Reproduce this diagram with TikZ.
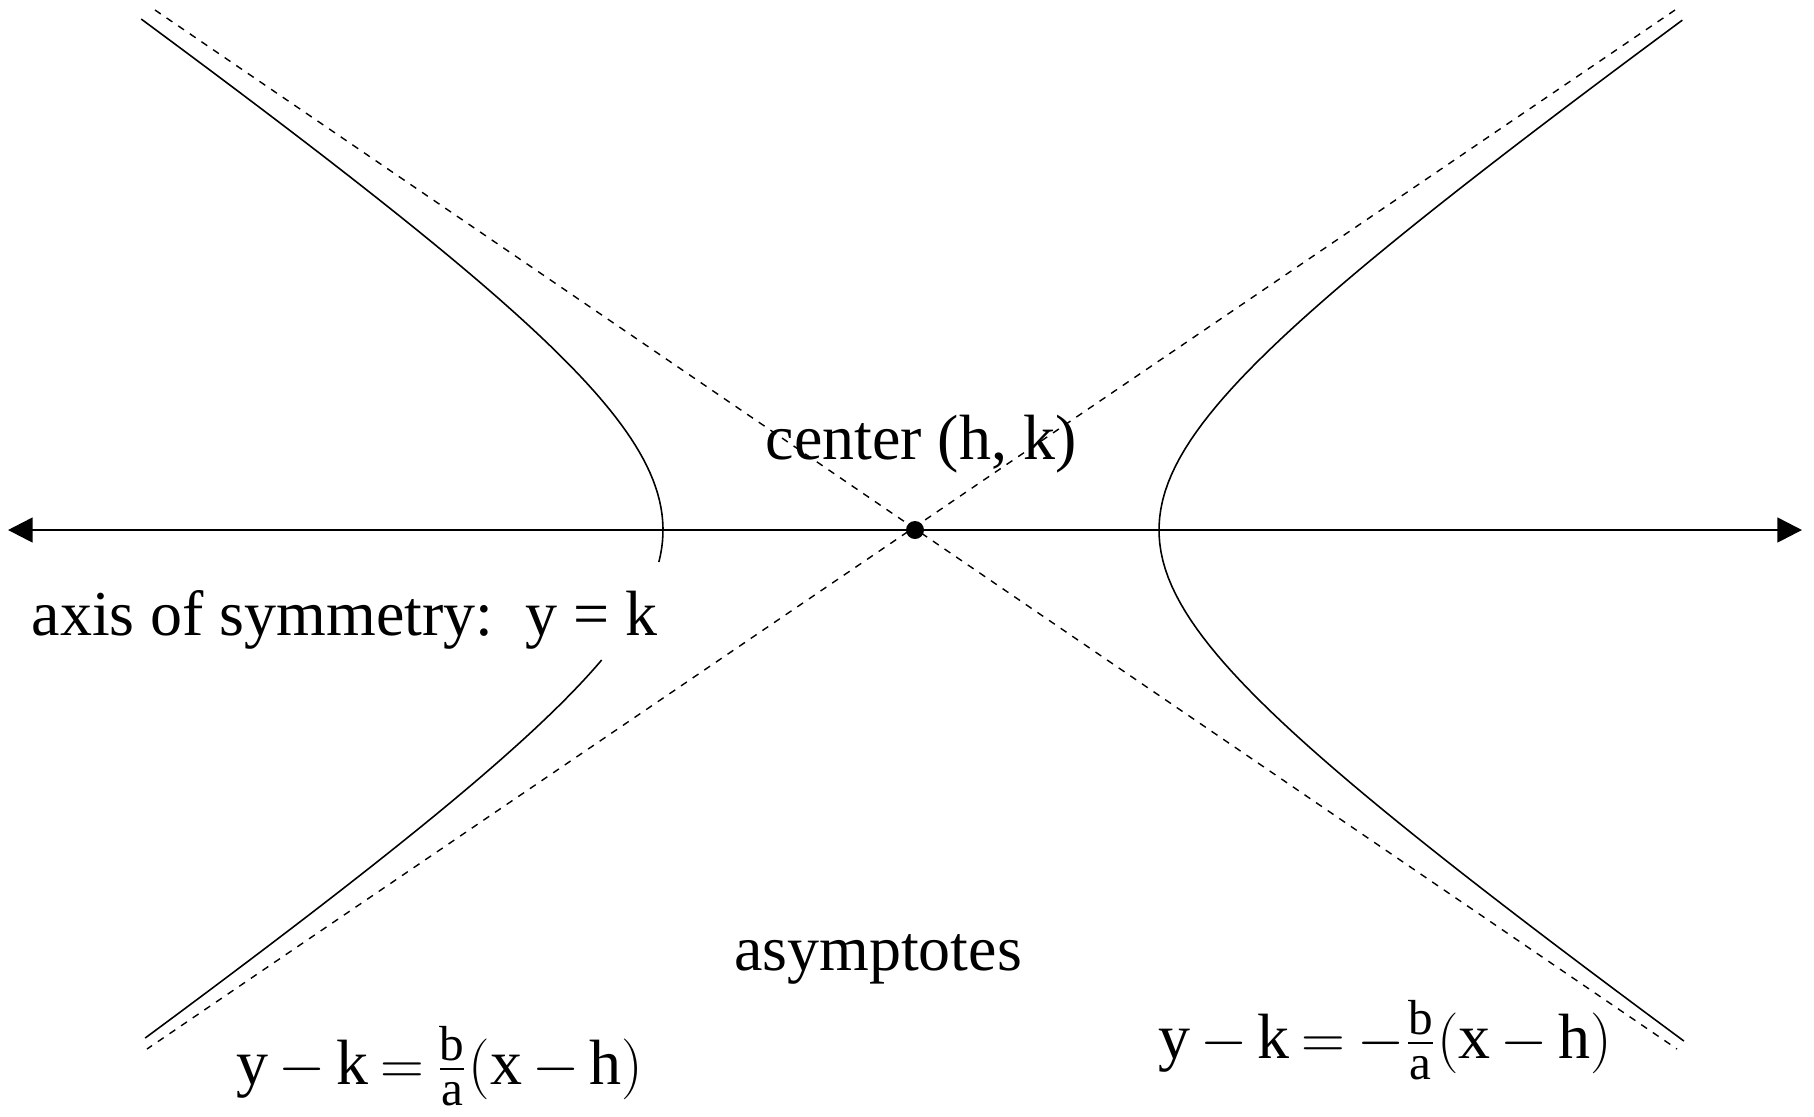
\documentclass[tikz,border=0pt]{standalone}
\usepackage{fontspec}
\setmainfont{Liberation Serif}
\DeclareMathSizes{18.2}{18.2}{14}{11}
\newcommand{\tightmath}{\medmuskip=3mu\relax\thickmuskip=3.5mu\relax}
\usetikzlibrary{arrows.meta}

\begin{document}
\begin{tikzpicture}[
  lbl/.style={font=\fontsize{18.2}{22}\selectfont, inner sep=0pt},
  asym/.style={dash pattern=on 2pt off 2pt, line width=0.4pt},
  branch/.style={line width=0.45pt},
  axisline/.style={line width=0.75pt, {Triangle[length=7pt,width=7pt]}-{Triangle[length=7pt,width=7pt]}},
]
\useasboundingbox (-9.15,-5.86) rectangle (8.99,5.30);
% Asymptotes
\coordinate (ul) at (-7.60,5.20);
\coordinate (lr) at (7.62,-5.19);
\coordinate (ur) at (7.60,5.20);
\coordinate (ll) at (-7.68,-5.19);
\draw[asym] (ul) -- (lr) (ur) -- (ll);
% Left branch (broken round the label)
\draw[branch] plot[domain=-0.32:5.11, samples=80] ({-2.52*sqrt(1+(\x/1.76)^2)}, \x);
\draw[branch] plot[domain=-5.08:-1.30, samples=50] ({-2.52*sqrt(1+(\x/1.76)^2)}, \x);
% Right branch
\draw[branch] plot[domain=-5.11:5.10, samples=120] ({2.44*sqrt(1+(\x/1.71)^2)}, \x);
% Axis of symmetry
\coordinate (axl) at (-9.07,0);
\coordinate (axr) at (8.87,0);
\draw[axisline] (axl) -- (axr);
% Center
\node[circle, fill, inner sep=0pt, minimum size=0.18cm] (ctr) at (0,0) {};
% Labels
\node[lbl, anchor=base] (ctrlbl) at (0.06,0.71) {center (h, k)};
\node[lbl, anchor=base west] (axlbl) at (-8.84,-1.05) {axis of symmetry:\ \ y = k};
\node[lbl, anchor=base] (aslbl) at (-0.37,-4.40) {asymptotes};
\node[lbl] (eqpos) at (-4.75,-5.36) {$\tightmath\mathrm{y}-\mathrm{k}=\frac{\mathrm{b}}{\mathrm{a}}(\mathrm{x}-\mathrm{h})$};
\node[lbl] (eqneg) at (4.70,-5.10) {$\tightmath\mathrm{y}-\mathrm{k}=-\frac{\mathrm{b}}{\mathrm{a}}(\mathrm{x}-\mathrm{h})$};
\end{tikzpicture}
\end{document}
